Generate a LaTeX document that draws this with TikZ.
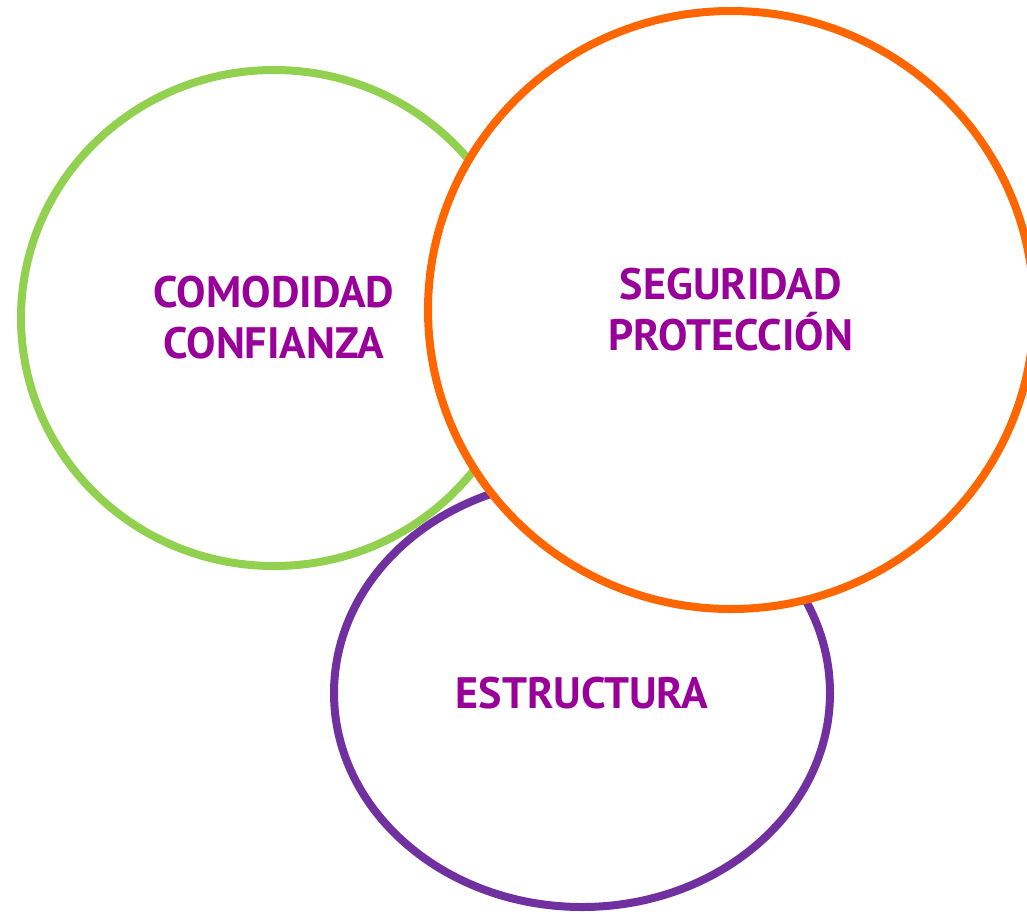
\documentclass[tikz,border=0pt]{standalone}
\usepackage{fontspec}
\setmainfont{PT Sans}
\usetikzlibrary{shapes.geometric}
\definecolor{cgreen}{HTML}{92D050}
\definecolor{corange}{HTML}{FF6600}
\definecolor{cpurple}{HTML}{7030A0}
\definecolor{ctext}{HTML}{990099}
\tikzset{
  ring/.style={ellipse, line width=8pt, inner sep=0pt, align=center, fill=white,
    text=ctext, font=\bfseries\fontsize{44}{51}\selectfont},
}
\begin{document}
\begin{tikzpicture}[x=1pt,y=-1pt]
\useasboundingbox (0,0) rectangle (1027,913);
\clip (0,0) rectangle (1027,913);
\fill[white] (0,0) rectangle (1027,913);
\node[ring, draw=cgreen, minimum width=506pt, minimum height=496pt] (green) at (274,318) {COMODIDAD\\CONFIANZA};
\node[ring, draw=cpurple, minimum width=496pt, minimum height=428pt] (purple) at (582,693) {ESTRUCTURA};
\node[ring, draw=corange, minimum width=606pt, minimum height=598pt] (orange) at (731,310) {SEGURIDAD\\PROTECCIÓN};
\end{tikzpicture}
\end{document}
